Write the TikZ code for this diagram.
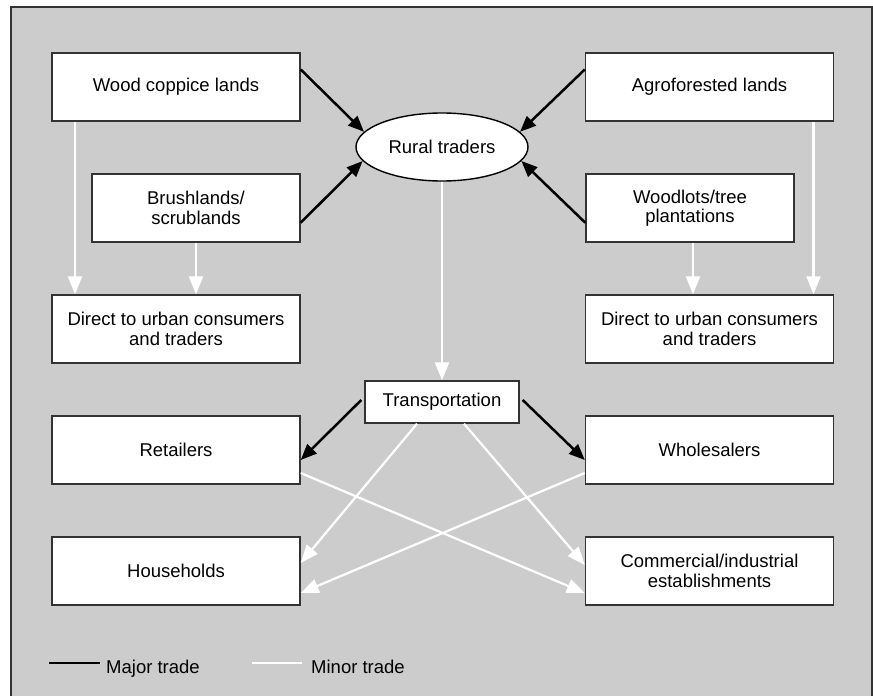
\documentclass[tikz,border=0pt]{standalone}
\usepackage{fontspec}
\setmainfont{Liberation Sans}
\usetikzlibrary{shapes.geometric,arrows.meta}
\definecolor{panelgray}{HTML}{CCCCCC}
\definecolor{edgegray}{HTML}{333333}

\begin{document}
\begin{tikzpicture}[x=1pt,y=-1pt,
        landbox/.style={draw=edgegray,fill=white,line width=1.4pt,inner sep=0pt,align=center,
          minimum width=248pt,minimum height=68pt,font=\fontsize{18.5}{19.5}\selectfont},
        traderoval/.style={ellipse,draw=black,fill=white,line width=1.4pt,inner sep=0pt,
          minimum width=172pt,minimum height=68pt,font=\fontsize{18.5}{19.5}\selectfont},
        major/.style={line width=2.5pt,black,-{Triangle[length=16pt,width=13pt]}},
        minor/.style={line width=2.2pt,white,-{Triangle[length=18pt,width=14pt]}},
        legendtext/.style={anchor=base west,inner sep=0pt,font=\fontsize{18.5}{19.5}\selectfont}]
        \useasboundingbox (0,0) rectangle (873,696);
        \draw[line width=1.5pt,draw=edgegray,fill=panelgray] (11,7) rectangle (872,710);

        \node[landbox] (wood) at (176,87) {Wood coppice lands};
        \node[landbox,minimum width=208pt] (brush) at (196,208) {Brushlands/\\scrublands};
        \node[landbox] (agro) at (709.5,87) {Agroforested lands};
        \node[landbox,minimum width=208pt] (woodlot) at (690,208) {Woodlots/tree\\plantations};
        \node[traderoval] (rural) at (442,147) {Rural traders};

        \node[landbox] (directL) at (176,329) {Direct to urban consumers\\and traders};
        \node[landbox] (directR) at (709.5,329) {Direct to urban consumers\\and traders};
        \node[landbox,minimum width=154pt,minimum height=42pt] (trans) at (442,402) {Transportation};
        \node[landbox] (retail) at (176,450) {Retailers};
        \node[landbox] (whole) at (709.5,450) {Wholesalers};
        \node[landbox] (house) at (176,571) {Households};
        \node[landbox] (comm) at (709.5,571) {Commercial/industrial\\establishments};

        \draw[major] (wood.8) -- (rural.169);
        \draw[major] (brush.-8) -- (rural.190);
        \draw[major] (agro.172) -- (rural.11);
        \draw[major] (woodlot.188) -- (rural.350);

        \draw[minor] ([xshift=-101pt]wood.south) -- ([xshift=-101pt]wood.south |- directL.north);
        \draw[minor] (brush.south) -- (brush.south |- directL.north);
        \draw[minor] ([xshift=3pt]woodlot.south) -- ([xshift=3pt]woodlot.south |- directR.north);
        \draw[minor] ([xshift=104pt]agro.south) -- ([xshift=104pt]agro.south |- directR.north);
        \draw[minor] (rural.south) -- (trans.north);

        \draw[major] ([xshift=-3pt,yshift=2pt]trans.west) -- ([yshift=-10pt]retail.east);
        \draw[major] ([xshift=3pt,yshift=2pt]trans.east) -- ([yshift=-10pt]whole.west);

        \draw[minor] ([xshift=-25pt]trans.south) -- ([yshift=8pt]house.east);
        \draw[minor] ([xshift=22pt]trans.south) -- ([yshift=6pt]comm.west);
        \draw[minor] ([yshift=-23pt]retail.east) -- ([yshift=-22pt]comm.west);
        \draw[minor] ([yshift=-23pt]whole.west) -- ([yshift=-22pt]house.east);

        \coordinate (majA) at (49,663);
        \coordinate (majB) at (100,663);
        \coordinate (minA) at (252,663);
        \coordinate (minB) at (302,663);
        \draw[line width=2.5pt,black] (majA) -- (majB);
        \draw[line width=2.5pt,white] (minA) -- (minB);
        \node[legendtext] (majtxt) at (106,673) {Major trade};
        \node[legendtext] (mintxt) at (311,673) {Minor trade};
    \end{tikzpicture}
\end{document}
